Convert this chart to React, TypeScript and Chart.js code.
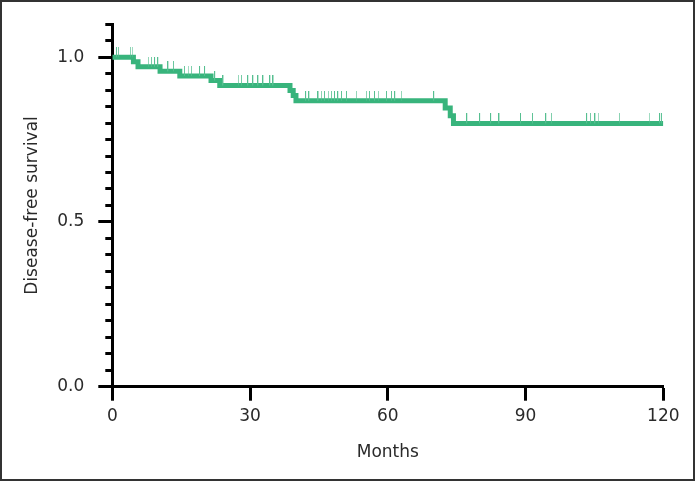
import React, { useEffect, useRef } from 'react';
import { Chart, registerables } from 'chart.js';

Chart.register(...registerables);

// Kaplan-Meier step points (month, survival after event)
const eventMonths = [0, 4.6, 5.6, 10.4, 14.7, 21.5, 23.4, 38.7, 39.4, 40.0, 72.5, 73.6, 74.3, 120];
const survival = [1.0, 0.986, 0.971, 0.957, 0.943, 0.929, 0.914, 0.899, 0.884, 0.868, 0.846, 0.822, 0.799, 0.799];

// Censored observations (months)
const censorMonths = [
  1.0, 1.4, 4.0, 4.4, 7.9, 8.6, 9.3, 10.0, 12.2, 13.4, 15.8, 16.6, 17.3, 19.1, 20.2,
  22.4, 24.2, 27.5, 28.2, 29.6, 30.7, 31.8, 32.9, 34.4, 35.1,
  42.2, 42.9, 44.9, 45.6, 46.3, 47.1, 47.8, 48.5, 49.2, 50.0, 51.1, 53.2, 55.4, 56.1,
  57.2, 58.0, 59.8, 60.9, 61.6, 63.0, 70.1, 77.3, 80.1, 82.5, 84.3, 89.0, 91.6, 94.5,
  95.7, 103.4, 104.2, 105.2, 105.9, 110.5, 117.0, 119.3, 119.7,
];

const xTicks = [0, 30, 60, 90, 120];
const yLabels = [0, 0.5, 1.0];
const yMinorCount = 22; // 0 .. 1.1 every 0.05

const X_TITLE = 'Months';
const Y_TITLE = 'Disease-free survival';

const GREEN = '#38b47c';
const CENSOR = '#56bf90';
const TEXT = '#2a2a2a';
const FONT = '"DejaVu Sans", sans-serif';
const FS = 17;

function survAt(t: number): number {
  let s = survival[0];
  for (let i = 0; i < eventMonths.length; i++) {
    if (eventMonths[i] <= t) s = survival[i];
  }
  return s;
}

export default function App() {
  const ref = useRef<HTMLCanvasElement | null>(null);

  useEffect(() => {
    const canvas = ref.current;
    if (!canvas) return;

    const mark = document.createElement('canvas');
    mark.width = 2;
    mark.height = 20;
    const mctx = mark.getContext('2d')!;
    mctx.fillStyle = CENSOR;
    mctx.fillRect(0, 0, 1, 10);

    const frame = {
      id: 'frame',
      afterDraw(chart: any) {
        const c = chart.ctx;
        c.save();
        c.strokeStyle = '#333';
        c.lineWidth = 2;
        c.strokeRect(1, 1, chart.width - 2, chart.height - 2);
        c.restore();
      },
    };

    const chart = new Chart(canvas, {
      type: 'scatter',
      data: {
        datasets: [
          {
            type: 'line',
            data: eventMonths.map((x, i) => ({ x, y: survival[i] })),
            stepped: 'before',
            borderColor: GREEN,
            borderWidth: 5,
            borderCapStyle: 'butt',
            borderJoinStyle: 'miter',
            pointRadius: 0,
            fill: false,
            order: 2,
          } as any,
          {
            type: 'scatter',
            data: censorMonths.map((x) => ({ x, y: survAt(x) })),
            pointStyle: mark as any,
            pointRadius: 3,
            order: 1,
          } as any,
        ],
      },
      options: {
        responsive: false,
        animation: false,
        events: [],
        layout: { padding: { left: 0, top: 19.3, right: 31.7, bottom: 0 } },
        plugins: { legend: { display: false }, tooltip: { enabled: false } },
        scales: {
          x: {
            type: 'linear',
            min: 0,
            max: 120,
            afterBuildTicks: (s: any) => {
              s.ticks = xTicks.map((v) => ({ value: v }));
            },
            afterFit: (s: any) => {
              s.height = 481 - 386.7;
            },
            border: { display: true, color: '#000', width: 3 },
            grid: {
              drawOnChartArea: false,
              drawTicks: true,
              tickLength: 14,
              tickWidth: 3,
              tickColor: '#000',
            },
            ticks: {
              autoSkip: false,
              maxRotation: 0,
              padding: 6,
              color: TEXT,
              font: { family: FONT, size: FS },
            },
            title: {
              display: true,
              text: X_TITLE,
              color: TEXT,
              font: { family: FONT, size: FS },
              padding: { top: 0, bottom: 18 },
            },
          },
          y: {
            type: 'linear',
            min: 0,
            max: 1.1,
            afterBuildTicks: (s: any) => {
              const t = [];
              for (let i = 0; i <= yMinorCount; i++) t.push({ value: Math.round(i * 5) / 100 });
              s.ticks = t;
            },
            afterFit: (s: any) => {
              s.width = 112.3;
            },
            border: { display: true, color: '#000', width: 3 },
            grid: {
              drawOnChartArea: false,
              drawTicks: true,
              tickLength: 14,
              tickWidth: 3,
              tickColor: '#000',
              tickBorderDash: (ctx: any) =>
                yLabels.includes(ctx.tick?.value) ? [] : [0, 7, 30, 0],
            } as any,
            ticks: {
              autoSkip: false,
              padding: 14,
              color: TEXT,
              font: { family: FONT, size: FS },
              callback: (v: any) => (yLabels.includes(v) ? Number(v).toFixed(1) : ''),
            },
            title: {
              display: true,
              text: Y_TITLE,
              color: TEXT,
              font: { family: FONT, size: FS },
              padding: { top: 22, bottom: 0 },
            },
          },
        },
      },
      plugins: [frame],
    } as any);

    return () => chart.destroy();
  }, []);

  return (
    <div style={{ position: 'fixed', left: 0, top: 0, width: 695, height: 481, background: '#fff' }}>
      <canvas ref={ref} width={695} height={481} style={{ display: 'block', width: 695, height: 481 }} />
    </div>
  );
}
